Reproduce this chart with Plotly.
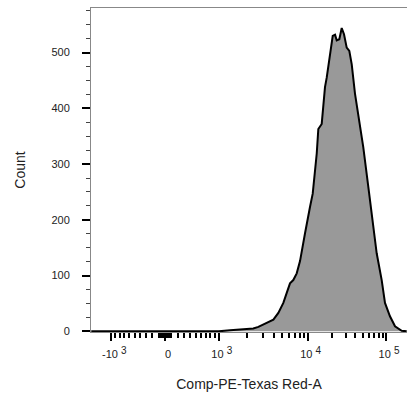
import numpy as np
import plotly.graph_objects as go

# ---- data (intensity bin centres, counts) ----
intensity = [-1650, -1000, 0, 1000, 1330, 1840, 2360, 2680, 3170, 3940, 4490,
             5130, 5620, 6140, 6720, 7380, 8090, 8620, 9300, 10700, 11560,
             12960, 13560, 14950, 16430, 17270, 19000, 20560, 22000, 23100,
             24940, 26750, 28620, 30980, 33460, 35940, 39620, 43690, 50680,
             58850, 68290, 75580, 87810, 96950, 112600, 131000, 160200, 186300]
counts = [0, 0, 0, 0, 2, 4, 5, 8, 14, 21, 33,
          51, 69, 86, 92, 104, 126, 146, 176, 223, 247,
          319, 363, 372, 438, 455, 497, 530, 532, 522,
          524, 544, 533, 509, 503, 479, 426, 390, 330,
          259, 188, 140, 92, 51, 27, 9, 1, 0]

major_vals = [-1000, 0, 1000, 10000, 100000]
major_base = ["-10", "0", "10", "10", "10"]
major_exp = ["3", "", "3", "4", "5"]
minor_vals = (list(range(-900, 0, 100)) + list(range(-90, 0, 10)) +
              list(range(10, 100, 10)) + list(range(100, 1000, 100)) +
              list(range(2000, 10000, 1000)) + list(range(20000, 100000, 10000)))
x_limits = [-1660, 188000]
y_limits = [-1.2, 580]

major_text = [b + (" <sup><span style='font-size:10px'>%s</span></sup>" % e if e else "")
              for b, e in zip(major_base, major_exp)]

# ---- biexponential (logicle-like) display transform ----
P = 3.2
C = 122.2


def biex(u):
    u = np.asarray(u, float)
    a = np.abs(u)
    return np.sign(u) * C * (np.exp(a) - P * P * np.exp(-a / P) + P * P - 1)


_u = np.linspace(0, 9, 20001)
_v = biex(_u)


def to_disp(v):
    v = np.asarray(v, float)
    return np.sign(v) * np.interp(np.abs(v), _v, _u)


fig = go.Figure()
fig.add_trace(go.Scatter(
    x=to_disp(intensity), y=counts, mode="lines",
    line=dict(color="black", width=2),
    fill="tozeroy", fillcolor="#999999",
    hoverinfo="skip"))

fig.update_layout(
    width=407, height=398,
    margin=dict(l=91, r=0, t=8, b=66),
    plot_bgcolor="white", paper_bgcolor="white",
    showlegend=False,
    font=dict(family="Liberation Sans, Arial, Helvetica, sans-serif", color="#222"),
)
fig.update_xaxes(
    range=list(to_disp(x_limits)),
    tickmode="array", tickvals=list(to_disp(major_vals)), ticktext=major_text,
    ticks="outside", ticklen=8, tickwidth=2, tickcolor="black",
    minor=dict(tickmode="array", tickvals=list(to_disp(minor_vals)),
               ticks="outside", ticklen=5, tickwidth=1.5, tickcolor="black"),
    showline=True, linecolor="#888", linewidth=1, mirror=True,
    showgrid=False, zeroline=False,
    tickfont=dict(size=11, color="#222"),
    ticklabelshift=3, ticklabelstandoff=4,
    title=dict(text="Comp-PE-Texas Red-A", font=dict(size=14, color="#222"), standoff=19),
)
fig.update_yaxes(
    range=y_limits,
    tickmode="linear", tick0=0, dtick=100,
    ticks="outside", ticklen=8, tickwidth=2, tickcolor="black",
    minor=dict(tickmode="linear", tick0=0, dtick=25, ticks="outside",
               ticklen=4, tickwidth=1, tickcolor="#444"),
    showline=True, linecolor="#888", linewidth=1,
    showgrid=False, zeroline=False,
    tickfont=dict(size=11, color="#222"),
    ticklabelstandoff=10,
    title=dict(text="Count", font=dict(size=14, color="#222"), standoff=22),
)

fig.write_html("out.html", config={"displayModeBar": False},
               post_script="document.body.style.margin='0';")
